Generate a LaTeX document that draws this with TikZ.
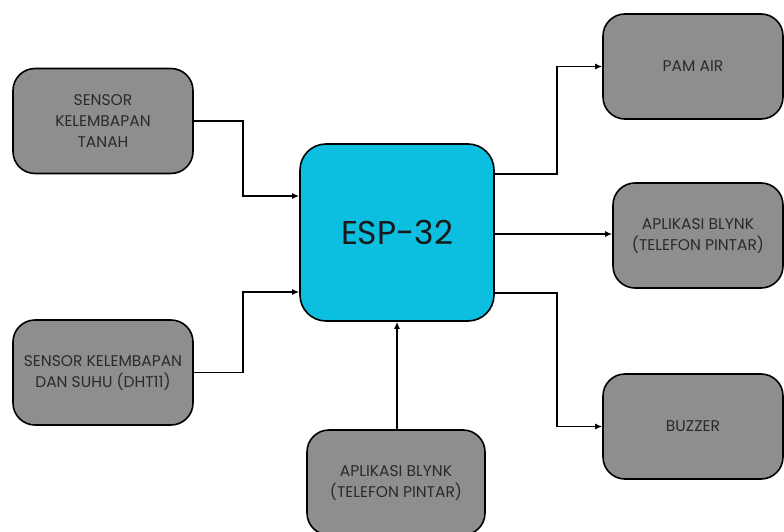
\documentclass[tikz,border=0pt]{standalone}
\usepackage{fontspec}
\setmainfont{Poppins}
\usetikzlibrary{arrows.meta}
\definecolor{boxgray}{HTML}{8E8E8E}
\definecolor{espcyan}{HTML}{0CBEDF}
\definecolor{txtgray}{HTML}{2A2A2A}
\begin{document}
\begin{tikzpicture}[x=1pt,y=-1pt,
  graybox/.style={draw=black, line width=1.6pt, fill=boxgray, rounded corners=22pt,
    minimum width=180pt, minimum height=105pt, align=center, text=txtgray,
    font=\fontsize{15.5}{21}\selectfont, inner sep=0pt},
  espbox/.style={draw=black, line width=1.6pt, fill=espcyan, rounded corners=26pt,
    minimum width=194pt, minimum height=177pt, align=center, text=black!90,
    font=\fontsize{33}{36}\selectfont, inner sep=0pt},
  conn/.style={draw=black, line width=1.5pt, -{Latex[length=7pt,width=6pt]}}]
\useasboundingbox (0,0) rectangle (784,532);
\node[graybox] (tanah) at (103,121) {SENSOR\\KELEMBAPAN\\TANAH};
\node[graybox] (dht) at (103,372.5) {SENSOR KELEMBAPAN\\DAN SUHU (DHT11)};
\node[espbox] (esp) at (397,232.5) {ESP-32};
\node[graybox] (pam) at (693,66.5) {PAM AIR};
\node[graybox, minimum width=170pt] (blynkr) at (698,235.5) {APLIKASI BLYNK\\(TELEFON PINTAR)};
\node[graybox] (buzzer) at (693,426.5) {BUZZER};
\node[graybox, minimum width=178pt] (blynkb) at (396,482.5) {APLIKASI BLYNK\\(TELEFON PINTAR)};
\draw[conn] (tanah.east) -- ++(49,0) |- (esp.west |- {(0,196)});
\draw[conn] (dht.east) -- ++(49,0) |- (esp.west |- {(0,292)});
\draw[conn] (esp.east |- {(0,174)}) -- ++(62,0) |- (pam.west);
\draw[conn] (esp.east |- {(0,234)}) -- (blynkr.west |- {(0,234)});
\draw[conn] (esp.east |- {(0,293)}) -- ++(62,0) |- (buzzer.west);
\draw[conn] (blynkb.north -| esp.south) -- (esp.south);
\end{tikzpicture}
\end{document}
